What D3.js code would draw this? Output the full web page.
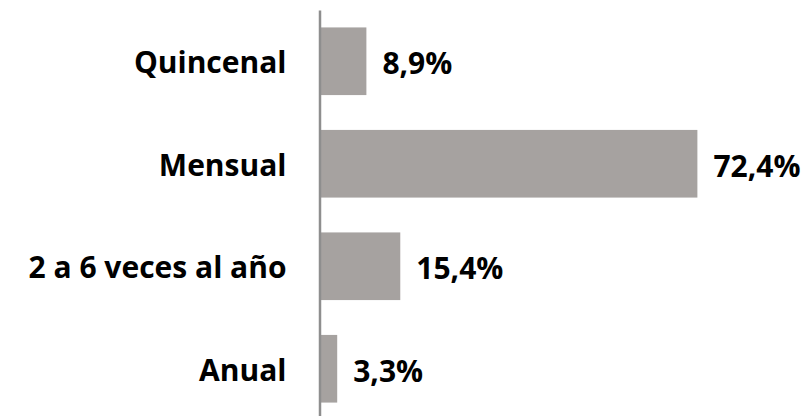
<!DOCTYPE html>
<html>
<head>
<meta charset="utf-8">
<script src="https://cdn.jsdelivr.net/npm/d3@7"></script>
<style>
  body { margin: 0; background: #fff; }
  text { font-family: "Open Sans", sans-serif; font-weight: bold; fill: #000; }
</style>
</head>
<body>
<div id="chart"></div>
<script>
// data
let categories = ["Quincenal", "Mensual", "2 a 6 veces al año", "Anual"];
let values = [8.9, 72.4, 15.4, 3.3];
let valueLabels = ["8,9%", "72,4%", "15,4%", "3,3%"];

let svgWidth = 812;
let svgHeight = 416;

let svg = d3.select("#chart")
  .append("svg")
  .attr("width", svgWidth)
  .attr("height", svgHeight);

// scales
let xScale = d3.scaleLinear()
  .domain([0, 80])
  .range([320, 737]);

let yScale = d3.scaleBand()
  .domain(categories)
  .range([10, 420])
  .paddingInner(0.34)
  .paddingOuter(0.17);

// bars
svg.selectAll("rect.bar")
  .data(values)
  .enter()
  .append("rect")
  .attr("class", "bar")
  .attr("x", xScale(0))
  .attr("y", (d, i) => yScale(categories[i]))
  .attr("width", d => xScale(d) - xScale(0))
  .attr("height", yScale.bandwidth())
  .attr("fill", "#a6a2a0");

// left axis, categories as tick labels
let leftAxis = d3.axisLeft(yScale).tickSize(0).tickPadding(33);
let axisG = svg.append("g")
  .attr("transform", `translate(${xScale(0) - 0.5}, 0)`)
  .call(leftAxis);

axisG.select(".domain")
  .attr("stroke", "#8e8e8e")
  .attr("stroke-width", 2.5);

axisG.selectAll(".tick text")
  .attr("font-size", 30)
  .attr("font-family", "Open Sans, sans-serif")
  .attr("font-weight", "bold")
  .attr("fill", "#000")
  .attr("dy", "0.4em");

// value labels
svg.selectAll("text.val")
  .data(values)
  .enter()
  .append("text")
  .attr("class", "val")
  .attr("x", d => xScale(d) + 16)
  .attr("y", (d, i) => yScale(categories[i]) + yScale.bandwidth() / 2 + 13)
  .attr("font-size", 30)
  .text((d, i) => valueLabels[i]);
</script>
</body>
</html>
